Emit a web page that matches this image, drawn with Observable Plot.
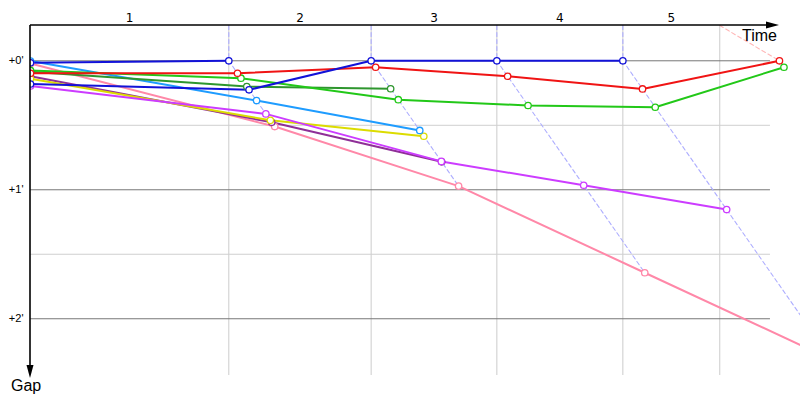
<!DOCTYPE html>
<html><head><meta charset="utf-8">
<script src="https://cdn.jsdelivr.net/npm/d3@7"></script>
<script src="https://cdn.jsdelivr.net/npm/@observablehq/plot@0.6"></script>
<style>
html,body{margin:0;padding:0;background:#fff;}
#chart{width:800px;height:400px;overflow:hidden;}
</style>
</head><body><div id="chart"></div>
<script>
// ---- data (times and gaps in seconds) ----
const laps = [1, 2, 3, 4, 5];
// time at which the leader of each lap crossed the line
const leaderTimes = [132.2, 227.1, 310.9, 394.9, 499.3];
// lap boundary times used for the vertical grid and lap labels
const lapBoundaries = [132.2, 227.1, 310.9, 394.9, 459.5];
// gap to leader: index 0 = start, index n = end of lap n
const drivers = ["Blue A", "Blue B", "Red", "Green", "Dark green", "Cyan", "Yellow", "Purple", "Magenta", "Pink"];
const gapBlueA     = [0.9, 0];
const gapBlueB     = [10.8, 13.5, 0, 0, 0];
const gapRed       = [5.8, 5.8, 3.0, 7.2, 13.1, 0];
const gapGreen     = [4.5, 8.1, 18.1, 20.8, 21.6, 3.0];
const gapDarkGreen = [5.1, 12.0, 13.0];
const gapCyan      = [0.1, 18.5, 32.4];
const gapYellow    = [8.4, 27.7, 35.1];
const gapPurple    = [7.2, 28.6, 47.0];
const gapMagenta   = [11.7, 24.7, 46.8, 57.9, 69.2];
const gapPink      = [1.3, 30.6, 58.3, 98.6, 138.9];
const gapTicks = [0, 30, 60, 90, 120];
const gapTickLabels = ["+0'", "", "+1'", "", "+2'"];

// ---- styling ----
const driverGaps = [gapBlueA, gapBlueB, gapRed, gapGreen, gapDarkGreen, gapCyan, gapYellow, gapPurple, gapMagenta, gapPink];
const driverColors = ["#1212d8", "#1212d8", "#f01414", "#22c818", "#2e962e", "#1e9cff", "#dcdc00", "#8f2f97", "#cc3cff", "#ff88a8"];
const lapLineBase = {"#1212d8": "#3c3cff", "#f01414": "#ff5050"};
const drawOrder = [9, 7, 6, 8, 5, 4, 3, 2, 0, 1];

const xMax = 513.33, yTop = -16.42, yBottom = 146.4, gridEnd = 493.3;

const rows = [];
drawOrder.forEach(i => {
  driverGaps[i].forEach((g, k) => {
    rows.push({driver: drivers[i], color: driverColors[i], lap: k, g, t: k === 0 ? 0 : leaderTimes[k - 1] + g});
  });
});

// lap lines: from the lap boundary at the top, through the leader, down to the last car of that lap
const lapLines = [];
laps.forEach((lap, n) => {
  let maxGap = 0, leader = 0;
  driverGaps.forEach((gs, i) => {
    if (gs.length > lap) { maxGap = Math.max(maxGap, gs[lap]); if (gs[lap] === 0) leader = i; }
  });
  const base = lapLineBase[driverColors[leader]] || driverColors[leader];
  const col = d3.interpolateRgb(base, "#ffffff")(0.58);
  lapLines.push({lap, color: col, t: lapBoundaries[n], g: yTop});
  lapLines.push({lap, color: col, t: leaderTimes[n], g: 0});
  lapLines.push({lap, color: col, t: leaderTimes[n] + maxGap, g: maxGap});
});

const lapLabels = laps.map((lap, n) => ({lap: String(lap), mid: ((n === 0 ? 0 : lapBoundaries[n - 1]) + lapBoundaries[n]) / 2}));
const tickRows = gapTicks.map((g, i) => ({g, label: gapTickLabels[i]}));

const plot = Plot.plot({
  width: 800, height: 400,
  marginLeft: 30, marginRight: 0, marginTop: 25, marginBottom: 25,
  x: {domain: [0, xMax], axis: null},
  y: {domain: [yTop, yBottom], reverse: true, axis: null},
  style: {background: "white", fontFamily: "Liberation Sans, sans-serif", color: "black"},
  marks: [
    Plot.ruleX(lapBoundaries, {stroke: "#cccccc", strokeWidth: 1}),
    Plot.ruleY(gapTicks, {x1: 0, x2: gridEnd, stroke: d => d % 60 === 0 ? "#777777" : "#cfcfcf", strokeWidth: 1}),
    Plot.line(lapLines, {x: "t", y: "g", z: "lap", stroke: "color", strokeWidth: 1.1, strokeDasharray: "4,3", clip: true}),
    Plot.line(rows, {x: "t", y: "g", z: "driver", stroke: "color", strokeWidth: 2, clip: true}),
    Plot.dot(rows, {x: "t", y: "g", r: 3.2, stroke: "color", fill: "white", strokeWidth: 1.3, clip: true}),
    Plot.text(lapLabels, {x: "mid", text: "lap", frameAnchor: "top", lineAnchor: "bottom", dy: -4, fontSize: 12, fontFamily: "DejaVu Sans", fill: "black"}),
    Plot.text(tickRows, {y: "g", text: "label", frameAnchor: "left", textAnchor: "end", dx: -7, fontSize: 11, fill: "black"})
  ]
});

const svg = d3.select(plot);
// time axis with arrow
svg.append("line").attr("x1", 30).attr("y1", 25).attr("x2", 770).attr("y2", 25).attr("stroke", "black").attr("stroke-width", 1.6);
svg.append("path").attr("d", "M766,21.5L779,25L766,28.5Z").attr("fill", "black");
svg.append("text").attr("x", 777).attr("y", 41).attr("text-anchor", "end").attr("font-size", 16).attr("font-family", "Liberation Sans, sans-serif").attr("fill", "black").text("Time");
// gap axis with arrow
svg.append("line").attr("x1", 30).attr("y1", 25).attr("x2", 30).attr("y2", 367).attr("stroke", "black").attr("stroke-width", 1.6);
svg.append("path").attr("d", "M26.5,365L30,378L33.5,365Z").attr("fill", "black");
svg.append("text").attr("x", 11).attr("y", 391).attr("text-anchor", "start").attr("font-size", 16).attr("font-family", "Liberation Sans, sans-serif").attr("fill", "black").text("Gap");

document.getElementById("chart").appendChild(plot);
</script>
</body></html>
